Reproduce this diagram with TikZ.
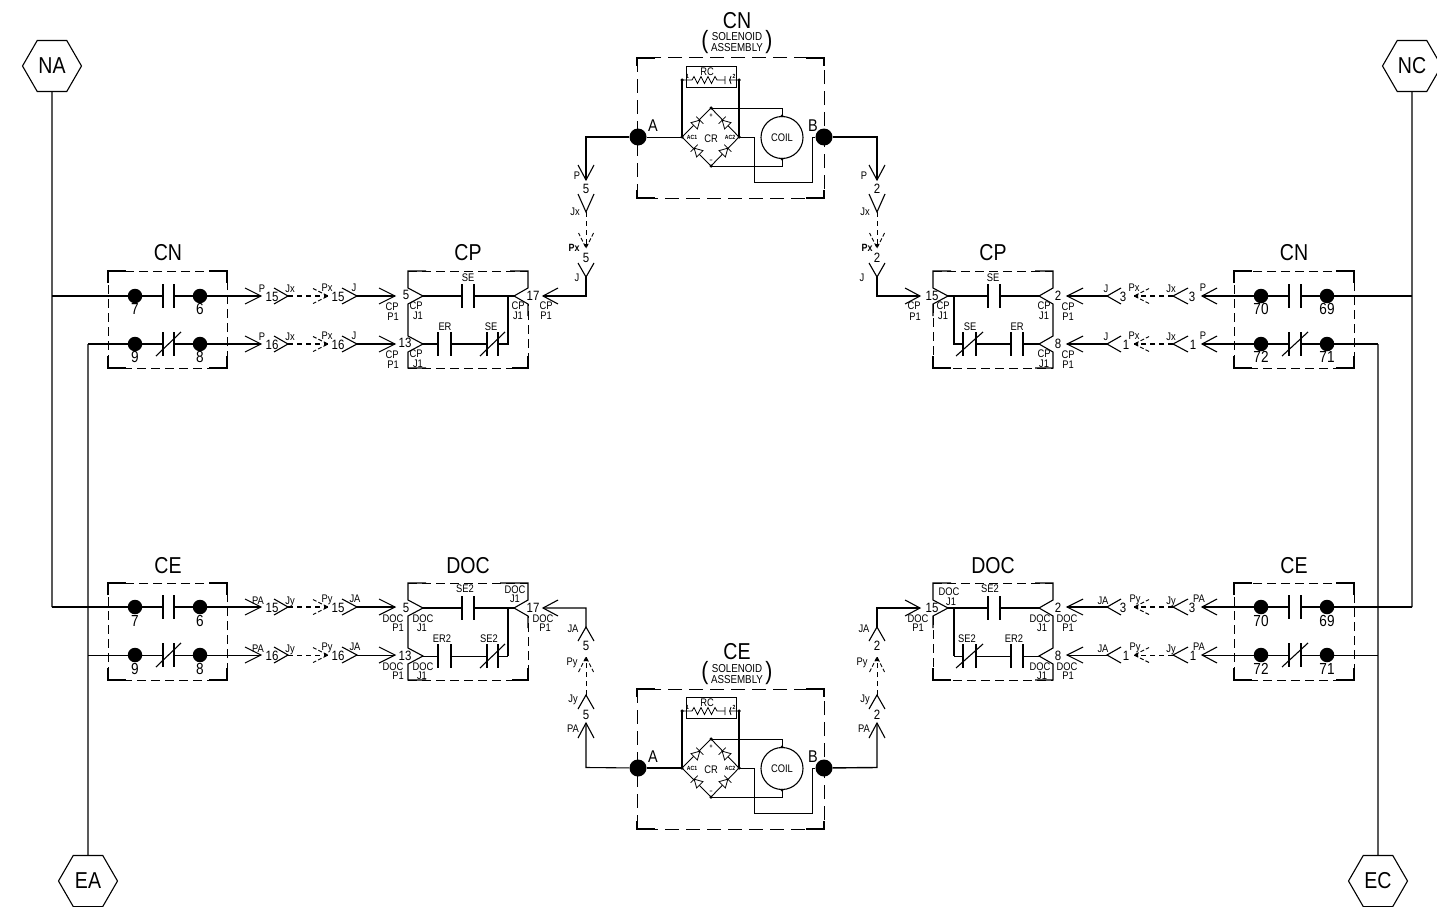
\documentclass[tikz,border=0pt]{standalone}
\usepackage{fontspec}
\setmainfont[FakeStretch=0.85]{Liberation Sans}
\usetikzlibrary{shapes.geometric}
\tikzset{
  wire/.style={line width=1.1pt,line cap=butt,line join=miter,black},
  thinwire/.style={line width=0.6pt,black},
  dashw/.style={line width=0.9pt,dash pattern=on 5pt off 4pt,black},
  dchevw/.style={line width=0.9pt,dash pattern=on 4pt off 2pt,black},
  boxd/.style={line width=1pt,dash pattern=on 9pt off 5pt,black},
  solbox/.style={line width=1pt,dash pattern=on 14pt off 7pt,black},
  dot/.style={circle,fill=black,inner sep=0pt,minimum size=14.5pt},
  bigdot/.style={circle,fill=black,inner sep=0pt,minimum size=17pt},
  jdot/.style={circle,fill=black,inner sep=0pt,minimum size=3.5pt},
  hex/.style={regular polygon,regular polygon sides=6,draw,line width=1.1pt,minimum size=59pt,inner sep=0pt,font=\fontsize{23}{23}\selectfont},
  lbl/.style={inner sep=0pt,text height=8pt,text depth=0pt,font=\fontsize{11}{11}\selectfont},
  num/.style={inner sep=0pt,text height=9.5pt,text depth=0pt,font=\fontsize{13.5}{13.5}\selectfont},
  dnum/.style={inner sep=0pt,text height=11.5pt,text depth=0pt,font=\fontsize{16}{16}\selectfont},
  ttl/.style={inner sep=0pt,text height=16.5pt,text depth=0pt,font=\fontsize{23}{23}\selectfont},
  ab/.style={inner sep=0pt,text height=12pt,text depth=0pt,font=\fontsize{17}{17}\selectfont},
  tiny/.style={inner sep=0pt,text height=4.5pt,text depth=0pt,font=\fontsize{6}{6}\selectfont\bfseries},
  sol/.style={inner sep=0pt,text height=8pt,text depth=0pt,font=\fontsize{11.5}{11.5}\selectfont},
  par/.style={inner sep=0pt,font=\fontsize{25}{25}\selectfont},
  conn/.style={lbl,font=\fontsize{10.5}{10.5}\selectfont\bfseries},
}
\newcount\lblc
\newcommand\lab[4][lbl]{\global\advance\lblc by 1 \node[#1] (t\the\lblc) at (#2,#3) {#4};}
% chevron: tip at x,y ; canvas angle
\newcommand\chev[4][16]{\draw[wire,shift={(#2,#3)},rotate=#4] (-#1,-8) -- (0,0) -- (-#1,8);}
\newcommand\dchev[3]{\draw[dchevw,shift={(#1,#2)},rotate=#3] (-15,-7.5) -- (0,0) -- (-15,7.5);
  \fill[shift={(#1,#2)},rotate=#3] (0,0) -- (-4,-2.2) -- (-4,2.2) -- cycle;}
\newcommand\NOc[4]{\coordinate (#1-l) at (#2,#4); \coordinate (#1-r) at (#3,#4);
  \draw[wire] (#2,#4-12) -- (#2,#4+12) (#3,#4-12) -- (#3,#4+12);}
\newcommand\NCc[4]{\NOc{#1}{#2}{#3}{#4}\draw[wire] (#2-7,#4+12) -- (#3+7,#4-12);}
% left connector row: prefix, y, wire style
\newcommand\LRow[3]{%
  \coordinate (#1-a) at (261,#2); \coordinate (#1-b) at (288,#2); \coordinate (#1-c) at (328,#2);
  \coordinate (#1-d) at (357,#2); \coordinate (#1-e) at (395,#2);
  \chev{261}{#2}{0} \chev[14]{288}{#2}{0} \dchev{328}{#2}{0} \chev[15]{357}{#2}{0} \chev{395}{#2}{0}
  \draw[dashw,#3,dash pattern=on 5pt off 4pt] (#1-b) -- (#1-c);
  \draw[#3] (#1-d) -- (#1-e);}
\newcommand\RRow[3]{%
  \coordinate (#1-a) at (1202,#2); \coordinate (#1-b) at (1173,#2); \coordinate (#1-c) at (1134,#2);
  \coordinate (#1-d) at (1107,#2); \coordinate (#1-e) at (1067,#2);
  \chev[15]{1202}{#2}{180} \chev[15]{1173}{#2}{180} \dchev{1134}{#2}{180} \chev[14]{1107}{#2}{180} \chev{1067}{#2}{180}
  \draw[dashw,#3,dash pattern=on 5pt off 4pt] (#1-b) -- (#1-c);
  \draw[#3] (#1-d) -- (#1-e);}
% relay box with solid corners
\newcommand\CBox[4]{%
  \draw[boxd] (#1,#2) rectangle (#3,#4);
  \draw[wire] (#1,#2+12) -- (#1,#2) -- (#1+18,#2) (#3-18,#2) -- (#3,#2) -- (#3,#2+12)
              (#1,#4-12) -- (#1,#4) -- (#1+18,#4) (#3-18,#4) -- (#3,#4) -- (#3,#4-12);}
\newcommand\diode[3]{\begin{scope}[shift={(#1,#2)},rotate=#3]
  \draw[line width=0.8pt,fill=white] (-4,-4.5) -- (-4,4.5) -- (4,0) -- cycle;
  \draw[line width=0.8pt] (4,-5) -- (4,5);\end{scope}}
% solenoid: prefix, dy, title
\newcommand\Solenoid[3]{%
  \begin{scope}[yshift=-#2 pt]
  \lab[ttl]{737}{20}{#3}
  \lab[sol]{737}{37}{SOLENOID}
  \lab[sol]{737}{48}{ASSEMBLY}
  \lab[par]{705}{42}{(}
  \lab[par]{769}{42}{)}
  \draw[solbox] (637,58) rectangle (824,198);
  \draw[wire] (637,66) -- (637,58) -- (655,58) (806,58) -- (824,58) -- (824,66)
              (637,190) -- (637,198) -- (655,198) (806,198) -- (824,198) -- (824,190);
  \node[bigdot] (#1A) at (638,137) {};
  \node[bigdot] (#1B) at (824,137) {};
  \lab[ab]{653}{125}{A}
  \lab[ab]{813}{125}{B}
  \draw[line width=0.9pt] (686,66) rectangle (736,87);
  \lab[lbl]{707}{71}{RC}
  \node[jdot] (#1r1) at (682,80) {};
  \node[jdot] (#1r2) at (739,80) {};
  \node[jdot] (#1ac1) at (682,137) {};
  \node[jdot] (#1ac2) at (739,137) {};
  \node[jdot] (#1pos) at (711,108) {};
  \node[jdot] (#1neg) at (711,166) {};
  \draw[line width=0.8pt] (#1r1.center) -- (692,80) -- (694,76.5) -- (697.5,83.5) -- (701,76.5) -- (704.5,83.5) -- (708,76.5) -- (711.5,83.5) -- (715,76.5) -- (717,80) -- (725,80);
  \draw[line width=0.8pt] (725,76) -- (725,84) (731,76) to[bend right=35] (731,84) (729,80) -- (#1r2.center);
  \lab[tiny]{687.5}{76}{1}
  \lab[tiny]{734}{76}{2}
  \draw[wire] (#1r1.center) -- (#1ac1.center) (#1r2.center) -- (#1ac2.center);
  \draw[line width=0.9pt] (#1ac1.center) -- (#1pos.center) -- (#1ac2.center) -- (#1neg.center) -- cycle;
  \diode{697}{123}{45}\diode{725}{123}{135}\diode{697}{151}{135}\diode{725}{151}{45}
  \lab[lbl]{711}{138}{CR}
  \lab[tiny]{692}{137}{AC1}
  \lab[tiny]{730}{137}{AC2}
  \lab[tiny]{711}{115}{+}
  \lab[tiny]{711}{160}{\textminus}
  \node[circle,draw,line width=1.1pt,minimum size=42pt,inner sep=0pt,font=\fontsize{11}{11}\selectfont] (#1coil) at (782,137.5) {COIL};
  \draw[line width=0.9pt] (#1pos.center) -- (782,108) -- (#1coil.north);
  \draw[line width=0.9pt] (#1neg.center) -- (782,166) -- (#1coil.south);
  \node[jdot,minimum size=3pt] at (#1coil.north) {};
  \node[jdot,minimum size=3pt] at (#1coil.south) {};
  \draw[line width=0.8pt] (#1ac2.center) -- (754,137) -- (754,182) -- (812,182) -- (812,137) -- (#1B);
  \end{scope}}
\begin{document}
\begin{tikzpicture}[x=1pt,y=-1pt]
\useasboundingbox (0,0) rectangle (1437,907);
% power hexagons
\node[hex] (NA) at (52,66) {NA};
\node[hex] (NC) at (1412,66) {NC};
\node[hex] (EA) at (88,881) {EA};
\node[hex] (EC) at (1378,881) {EC};
\coordinate (na1) at (52,296); \coordinate (na2) at (52,607);
\coordinate (nc1) at (1412,296); \coordinate (nc2) at (1412,607);
\coordinate (ea1) at (88,344); \coordinate (ea2) at (88,655);
\coordinate (ec1) at (1378,344); \coordinate (ec2) at (1378,655);
\draw[wire] (NA.south) -- (na2) (NC.south) -- (nc2) (EA.north) -- (ea1) (EC.north) -- (ec1);

% ---- left relay contacts
\CBox{108}{271}{227}{368}
\CBox{108}{583}{227}{680}
\CBox{1234}{271}{1354}{368}
\CBox{1234}{583}{1354}{680}
\lab[ttl]{168}{252}{CN}
\lab[ttl]{168}{565}{CE}
\lab[ttl]{1294}{252}{CN}
\lab[ttl]{1294}{565}{CE}
% left top
\node[dot] (d7) at (135,296) {}; \node[dot] (d6) at (200,296) {};
\node[dot] (d9) at (135,344) {}; \node[dot] (d8) at (200,344) {};
\NOc{c1}{163}{174}{296} \NCc{c2}{163}{174}{344}
\LRow{r1}{296}{wire} \LRow{r2}{344}{wire}
\draw[wire] (na1) -- (d7) -- (c1-l) (c1-r) -- (d6) -- (r1-a);
\draw[wire] (ea1) -- (d9) -- (c2-l) (c2-r) -- (d8) -- (r2-a);
% left bottom
\node[dot] (e7) at (135,607) {}; \node[dot] (e6) at (200,607) {};
\node[dot] (e9) at (135,655) {}; \node[dot] (e8) at (200,655) {};
\NOc{c3}{163}{174}{607} \NCc{c4}{163}{174}{655}
\LRow{r3}{607}{wire} \LRow{r4}{655}{thinwire}
\draw[wire] (na2) -- (e7) -- (c3-l) (c3-r) -- (e6) -- (r3-a);
\draw[thinwire] (ea2) -- (e9) -- (c4-l) (c4-r) -- (e8) -- (r4-a);
% right top
\node[dot] (d70) at (1261,296) {}; \node[dot] (d69) at (1327,296) {};
\node[dot] (d72) at (1261,344) {}; \node[dot] (d71) at (1327,344) {};
\NOc{c5}{1289}{1301}{296} \NCc{c6}{1289}{1301}{344}
\RRow{r5}{296}{wire} \RRow{r6}{344}{wire}
\draw[wire] (nc1) -- (d69) -- (c5-r) (c5-l) -- (d70) -- (r5-a);
\draw[wire] (ec1) -- (d71) -- (c6-r) (c6-l) -- (d72) -- (r6-a);
% right bottom
\node[dot] (e70) at (1261,607) {}; \node[dot] (e69) at (1327,607) {};
\node[dot] (e72) at (1261,655) {}; \node[dot] (e71) at (1327,655) {};
\NOc{c7}{1289}{1301}{607} \NCc{c8}{1289}{1301}{655}
\RRow{r7}{607}{wire} \RRow{r8}{655}{thinwire}
\draw[wire] (nc2) -- (e69) -- (c7-r) (c7-l) -- (e70) -- (r7-a);
\draw[thinwire] (ec2) -- (e71) -- (c8-r) (c8-l) -- (e72) -- (r8-a);

% contact numbers
\foreach \x/\y/\t in {135/309/7,200/309/6,135/357/9,200/357/8,135/621/7,200/621/6,135/669/9,200/669/8,
  1261/309/70,1327/309/69,1261/357/72,1327/357/71,1261/621/70,1327/621/69,1261/669/72,1327/669/71}
  {\lab[dnum]{\x}{\y}{\t}}

% row labels left
\foreach \y/\n in {288/15,336/16}{
  \lab[lbl]{262}{\y}{P}\lab[lbl]{290}{\y}{Jx}\lab[lbl]{327}{\y-1}{Px}\lab[lbl]{354}{\y-1}{J}
  \lab[num]{272}{\y+9}{\n}\lab[num]{338}{\y+9}{\n}
  \lab[lbl]{392}{\y+18}{CP}\lab[lbl]{393}{\y+28}{P1}}
\foreach \y/\n in {600/15,648/16}{
  \lab[lbl]{258}{\y}{PA}\lab[lbl]{290}{\y}{Jy}\lab[lbl]{327}{\y-2}{Py}\lab[lbl]{355}{\y-2}{JA}
  \lab[num]{272}{\y+8}{\n}\lab[num]{338}{\y+8}{\n}
  \lab[lbl]{393}{\y+18}{DOC}\lab[lbl]{398}{\y+27}{P1}}
% row labels right
\foreach \y/\n/\xa/\xb in {288/3/1123/1192,336/1/1126/1193}{
  \lab[lbl]{1203}{\y-1}{P}\lab[lbl]{1171}{\y}{Jx}\lab[lbl]{1134}{\y-1}{Px}\lab[lbl]{1106}{\y}{J}
  \lab[num]{\xb}{\y+9}{\n}\lab[num]{\xa}{\y+9}{\n}
  \lab[lbl]{1068}{\y+18}{CP}\lab[lbl]{1068}{\y+28}{P1}}
\foreach \y/\n/\xa/\xb in {600/3/1123/1192,648/1/1126/1193}{
  \lab[lbl]{1199}{\y-2}{PA}\lab[lbl]{1171}{\y}{Jy}\lab[lbl]{1135}{\y-2}{Py}\lab[lbl]{1103}{\y}{JA}
  \lab[num]{\xb}{\y+8}{\n}\lab[num]{\xa}{\y+8}{\n}
  \lab[lbl]{1067}{\y+18}{DOC}\lab[lbl]{1068}{\y+27}{P1}}

% ---- CP left
\lab[ttl]{468}{252}{CP}
\draw[boxd] (408,368) -- (528,368) -- (528,304);
\draw[boxd] (408,271) -- (528,271);
\draw[wire] (426,271) -- (408,271) -- (408,288) -- (423,296) -- (408,304) -- (408,336) -- (423,344) -- (408,352) -- (408,368) -- (426,368);
\draw[wire] (510,271) -- (528,271) -- (528,288) -- (514,296) -- (528,304) -- (528,316);
\draw[wire] (512,368) -- (528,368) -- (528,356);
\coordinate (cpl-a) at (423,296); \coordinate (cpl-b) at (514,296); \coordinate (cpl-c) at (508,296);
\coordinate (cpl-d) at (423,344); \coordinate (cpl-e) at (508,344);
\NOc{s1}{462}{474}{296} \NOc{s2}{438}{451}{344} \NCc{s3}{487}{498}{344}
\draw[wire] (cpl-a) -- (s1-l) (s1-r) -- (cpl-b) (cpl-c) -- (cpl-e) -- (s3-r) (s3-l) -- (s2-r) (s2-l) -- (cpl-d);
\lab[lbl]{468}{277}{SE}\lab[lbl]{445}{326}{ER}\lab[lbl]{491}{326}{SE}
\lab[num]{406}{295}{5}\lab[lbl]{416}{305}{CP}\lab[lbl]{418}{315}{J1}
\lab[num]{405}{343}{13}\lab[lbl]{416}{353}{CP}\lab[lbl]{418}{363}{J1}
\lab[num]{533}{296}{17}\lab[lbl]{518}{305}{CP}\lab[lbl]{518}{315}{J1}
\lab[lbl]{546}{305}{CP}\lab[lbl]{546}{315}{P1}

% ---- CP right
\lab[ttl]{993}{252}{CP}
\draw[boxd] (933,271) -- (1053,271);
\draw[boxd] (933,304) -- (933,368) -- (1053,368);
\draw[wire] (951,271) -- (933,271) -- (933,288) -- (948,296) -- (933,304) -- (933,316);
\draw[wire] (933,356) -- (933,368) -- (951,368);
\draw[wire] (1035,271) -- (1053,271) -- (1053,288) -- (1039,296) -- (1053,304) -- (1053,336) -- (1039,344) -- (1053,352) -- (1053,368) -- (1035,368);
\coordinate (cpr-a) at (948,296); \coordinate (cpr-b) at (1039,296); \coordinate (cpr-c) at (954,296);
\coordinate (cpr-d) at (1039,344); \coordinate (cpr-e) at (954,344);
\NOc{s4}{988}{1000}{296} \NCc{s5}{963}{976}{344} \NOc{s6}{1011}{1023}{344}
\draw[wire] (cpr-a) -- (s4-l) (s4-r) -- (cpr-b) (cpr-c) -- (cpr-e) -- (s5-l) (s5-r) -- (s6-l) (s6-r) -- (cpr-d);
\lab[lbl]{993}{277}{SE}\lab[lbl]{970}{326}{SE}\lab[lbl]{1017}{326}{ER}
\lab[num]{932}{296}{15}\lab[lbl]{943}{305}{CP}\lab[lbl]{943}{315}{J1}
\lab[num]{1058}{296}{2}\lab[lbl]{1044}{305}{CP}\lab[lbl]{1044}{315}{J1}
\lab[num]{1058}{344}{8}\lab[lbl]{1044}{353}{CP}\lab[lbl]{1044}{363}{J1}
\lab[lbl]{914}{305}{CP}\lab[lbl]{915}{316}{P1}

% ---- DOC left
\lab[ttl]{468}{565}{DOC}
\draw[boxd] (408,583) -- (528,583);
\draw[boxd] (408,680) -- (528,680) -- (528,616);
\draw[wire] (426,583) -- (408,583) -- (408,600) -- (423,608) -- (408,616) -- (408,648) -- (423,656) -- (408,664) -- (408,680) -- (426,680);
\draw[wire] (500,583) -- (528,583) -- (528,600) -- (514,608) -- (528,616) -- (528,628);
\draw[wire] (512,680) -- (528,680) -- (528,668);
\coordinate (dcl-a) at (423,608); \coordinate (dcl-b) at (514,608); \coordinate (dcl-c) at (508,608);
\coordinate (dcl-d) at (423,656); \coordinate (dcl-e) at (508,656);
\NOc{s7}{462}{474}{608} \NOc{s8}{438}{451}{656} \NCc{s9}{487}{498}{656}
\draw[wire] (dcl-a) -- (s7-l) (s7-r) -- (dcl-b) (dcl-c) -- (dcl-e);
\draw[thinwire] (dcl-e) -- (s9-r) (s9-l) -- (s8-r) (s8-l) -- (dcl-d);
\lab[lbl]{465}{588}{SE2}\lab[lbl]{442}{638}{ER2}\lab[lbl]{489}{638}{SE2}
\lab[lbl]{515}{589}{DOC}\lab[lbl]{515}{598.5}{J1}
\lab[num]{406}{608}{5}\lab[lbl]{423}{618}{DOC}\lab[lbl]{422}{627}{J1}
\lab[num]{405}{656}{13}\lab[lbl]{423}{666}{DOC}\lab[lbl]{422}{675}{J1}
\lab[num]{533}{608}{17}\lab[lbl]{543}{618}{DOC}\lab[lbl]{545}{627}{P1}

% ---- DOC right
\lab[ttl]{993}{565}{DOC}
\draw[boxd] (933,583) -- (1053,583);
\draw[boxd] (933,616) -- (933,680) -- (1053,680);
\draw[wire] (951,583) -- (933,583) -- (933,600) -- (948,608) -- (933,616) -- (933,628);
\draw[wire] (933,668) -- (933,680) -- (951,680);
\draw[wire] (1035,583) -- (1053,583) -- (1053,600) -- (1039,608) -- (1053,616) -- (1053,648) -- (1039,656) -- (1053,664) -- (1053,680) -- (1035,680);
\coordinate (dcr-a) at (948,608); \coordinate (dcr-b) at (1039,608); \coordinate (dcr-c) at (954,608);
\coordinate (dcr-d) at (1039,656); \coordinate (dcr-e) at (954,656);
\NOc{s10}{988}{1000}{608} \NCc{s11}{963}{976}{656} \NOc{s12}{1011}{1023}{656}
\draw[wire] (dcr-a) -- (s10-l) (s10-r) -- (dcr-b) (dcr-c) -- (dcr-e);
\draw[thinwire] (dcr-e) -- (s11-l) (s11-r) -- (s12-l) (s12-r) -- (dcr-d);
\lab[lbl]{990}{588}{SE2}\lab[lbl]{967}{638}{SE2}\lab[lbl]{1014}{638}{ER2}
\lab[lbl]{949}{591}{DOC}\lab[lbl]{951}{601}{J1}
\lab[num]{932}{608}{15}\lab[num]{1058}{608}{2}\lab[num]{1058}{656}{8}
\lab[lbl]{1040}{618}{DOC}\lab[lbl]{1042}{627}{J1}
\lab[lbl]{1040}{666}{DOC}\lab[lbl]{1042}{675}{J1}
\lab[lbl]{918}{618}{DOC}\lab[lbl]{918}{627}{P1}

% ---- solenoids
\Solenoid{u}{0}{CN}
\Solenoid{l}{631}{CE}

% ---- vertical connector stacks, top
\foreach \x/\n/\xp/\xjx/\xpx/\xj/\nm in {586/tl/577/575/574/577/5,877/tr/864/865/867/862/2}{
  \coordinate (\n-a) at (\x,180); \coordinate (\n-b) at (\x,212); \coordinate (\n-c) at (\x,248); \coordinate (\n-d) at (\x,277);
  \chev[15]{\x}{180}{-90}\chev[18]{\x}{212}{-90}\dchev{\x}{248}{-90}\chev[14]{\x}{277}{-90}
  \draw[dashw] (\n-b) -- (\n-c);
  \lab[lbl]{\xp}{175}{P}\lab[lbl]{\xjx}{211}{Jx}\lab[conn]{\xpx}{247}{Px}\lab[lbl]{\xj}{277}{J}
  \lab[num]{\x}{189}{\nm}\lab[num]{\x}{258}{\nm}}
% ---- vertical connector stacks, bottom
\foreach \x/\n/\xa/\xb/\xc/\xd/\nm in {586/bl/573/572/573/573/5,877/br/864/862/865/864/2}{
  \coordinate (\n-a) at (\x,723); \coordinate (\n-b) at (\x,695); \coordinate (\n-c) at (\x,657); \coordinate (\n-d) at (\x,627);
  \chev[15]{\x}{723}{90}\chev[14]{\x}{695}{90}\dchev{\x}{657}{90}\chev[14]{\x}{627}{90}
  \draw[dashw] (\n-b) -- (\n-c);
  \lab[lbl]{\xa}{628}{JA}\lab[lbl]{\xb}{661}{Py}\lab[lbl]{\xc}{698}{Jy}\lab[lbl]{\xd}{728}{PA}
  \lab[num]{\x}{646}{\nm}\lab[num]{\x}{715}{\nm}}

% ---- long wires
\coordinate (k1) at (586,137); \coordinate (k2) at (586,296); \coordinate (k3) at (877,137); \coordinate (k4) at (877,296);
\coordinate (k5) at (586,767.5); \coordinate (k6) at (586,608); \coordinate (k7) at (877,767.5); \coordinate (k8) at (877,608);
\coordinate (p1) at (543,296); \coordinate (p2) at (920,296); \coordinate (p3) at (543,608); \coordinate (p4) at (920,608);
\chev[15]{543}{296}{180}\chev[15]{920}{296}{0}\chev[15]{543}{608}{180}\chev[15]{920}{608}{0}
\draw[wire] (uA) -- (k1) -- (tl-a) (tl-d) -- (k2) -- (p1);
\draw[wire,line width=1.4pt] (uB) -- (k3) -- (tr-a);
\draw[wire] (tr-d) -- (k4) -- (p2);
\draw[wire] (lA) -- (k5) -- (bl-a) (bl-d) -- (k6) -- (p3);
\draw[wire,line width=1.4pt] (lB) -- (k7) -- (br-a);
\draw[wire] (br-d) -- (k8) -- (p4);
\draw[thinwire] (uA) -- (uac1.center);
\draw[wire] (lA) -- (lac1.center);
\end{tikzpicture}
\end{document}
